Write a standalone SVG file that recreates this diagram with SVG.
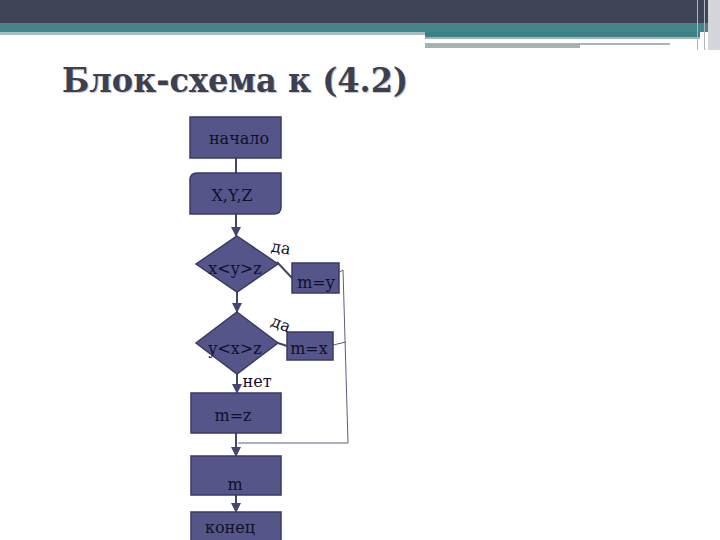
<svg xmlns="http://www.w3.org/2000/svg" width="720" height="540" viewBox="0 0 720 540">
<defs>
<style>
.box{fill:#55558a;stroke:#3a3a66;stroke-width:1.5}
.t{font-family:"DejaVu Serif","Liberation Serif",serif;font-size:16px;fill:#10102a;text-anchor:middle}
.c{fill:none;stroke:#45456e;stroke-width:2}
.thin{fill:none;stroke:#5c5c85;stroke-width:1}
</style>
<marker id="ah" viewBox="0 0 10 10" refX="9" refY="5" markerWidth="5" markerHeight="5" orient="auto">
<path d="M0,0 L10,5 L0,10 z" fill="#45456e"/>
</marker>
</defs>
<rect width="720" height="540" fill="#ffffff"/>
<g id="header">
<rect x="0" y="0" width="720" height="23" fill="#3f4456"/>
<rect x="0" y="22" width="720" height="1" fill="#4a3f55"/>
<rect x="0" y="23" width="720" height="9" fill="#44848b"/>
<rect x="0" y="32" width="425" height="3" fill="#a9bcc0"/>
<rect x="425" y="32" width="275" height="5" fill="#3f7e86"/>
<rect x="425" y="37" width="275" height="2" fill="#9fb5b8"/>
<rect x="425" y="43" width="245" height="2" fill="#a8b8b8"/>
<rect x="425" y="44" width="155" height="4" fill="#a4b2b3"/>
<rect x="697" y="0" width="1" height="50" fill="#b0b4c0"/>
<rect x="704" y="0" width="1" height="50" fill="#b0b4c0"/>
<rect x="708" y="0" width="12" height="50" fill="#d4d6dc"/>
</g>
<g id="title">
<text x="63" y="93" font-family="'DejaVu Serif','Liberation Serif',serif" font-size="33" font-weight="bold" fill="#c8c8cc" textLength="346" lengthAdjust="spacingAndGlyphs">Блок-схема к (4.2)</text>
<text x="62" y="92" font-family="'DejaVu Serif','Liberation Serif',serif" font-size="33" font-weight="bold" fill="#3d4050" textLength="346" lengthAdjust="spacingAndGlyphs">Блок-схема к (4.2)</text>
</g>
<g id="connectors">
<line class="c" x1="236" y1="158" x2="236" y2="173"/>
<line class="c" x1="236" y1="214" x2="236" y2="236" marker-end="url(#ah)"/>
<line class="c" x1="277" y1="262" x2="292" y2="278"/>
<line class="c" x1="237" y1="292" x2="237" y2="312" marker-end="url(#ah)"/>
<line class="c" x1="278" y1="343" x2="287" y2="346"/>
<line class="c" x1="237" y1="374" x2="237" y2="393" marker-end="url(#ah)"/>
<line class="c" x1="236" y1="433" x2="236" y2="456" marker-end="url(#ah)"/>
<line class="c" x1="236" y1="495" x2="236" y2="512" marker-end="url(#ah)"/>
<polyline class="thin" points="338,273 343,270 348,443 238,443"/>
<line class="thin" x1="333" y1="345" x2="346" y2="342"/>
</g>
<g id="n_start">
<rect class="box" x="190" y="117" width="91" height="41"/>
<text class="t" x="239" y="144">начало</text>
</g>
<g id="n_input">
<path class="box" d="M197,173 H281 V207 Q281,214 274,214 H190 V180 Q190,173 197,173 Z"/>
<text class="t" x="232" y="201">X,Y,Z</text>
</g>
<g id="n_cond1">
<polygon class="box" points="237,236 278,264 237,292 196,264"/>
<text class="t" x="235" y="274">x&lt;y&gt;z</text>
</g>
<g id="n_my">
<rect class="box" x="292" y="263" width="47" height="30"/>
<text class="t" x="316" y="288">m=y</text>
</g>
<g id="n_cond2">
<polygon class="box" points="237,312 278,343 237,374 196,343"/>
<text class="t" x="235" y="354">y&lt;x&gt;z</text>
</g>
<g id="n_mx">
<rect class="box" x="287" y="332" width="46" height="28"/>
<text class="t" x="309" y="354">m=x</text>
</g>
<g id="n_mz">
<rect class="box" x="191" y="393" width="90" height="40"/>
<text class="t" x="233" y="421">m=z</text>
</g>
<g id="n_m">
<rect class="box" x="191" y="456" width="90" height="39"/>
<text class="t" x="235" y="490">m</text>
</g>
<g id="n_end">
<rect class="box" x="191" y="512" width="90" height="40"/>
<text class="t" x="230" y="533">конец</text>
</g>
<g id="labels">
<text class="t" transform="translate(280,253) rotate(10)">да</text>
<text class="t" transform="translate(279,329) rotate(22)">да</text>
<text class="t" x="257" y="387">нет</text>
</g>
</svg>
